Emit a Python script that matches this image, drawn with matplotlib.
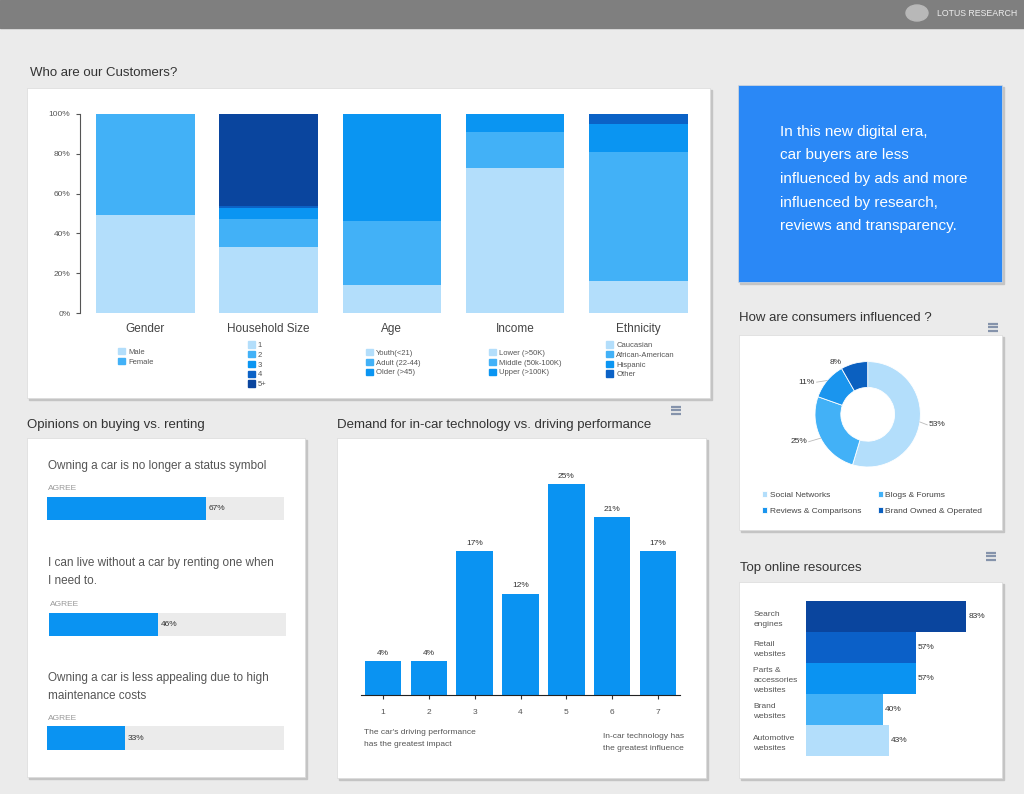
import matplotlib
matplotlib.use("Agg")
import matplotlib.pyplot as plt
from matplotlib.patches import Rectangle, Ellipse, Patch
from matplotlib.legend import Legend
from matplotlib.transforms import blended_transform_factory
import numpy as np

plt.rcParams['font.family'] = ['Liberation Sans', 'DejaVu Sans']

# ---- data ----
group_names = ['Gender', 'Household Size', 'Age', 'Income', 'Ethnicity']
gender_labels = ['Male', 'Female']
gender_values = [49, 51]
household_labels = ['1', '2', '3', '4', '5+']
household_values = [33, 14, 6, 1, 46]
age_labels = ['Youth(<21)', 'Adult (22-44)', 'Older (>45)']
age_values = [14, 32, 54]
income_labels = ['Lower (>50K)', 'Middle (50k-100K)', 'Upper (>100K)']
income_values = [73, 18, 9]
ethnicity_labels = ['Caucasian', 'African-American', 'Hispanic', 'Other']
ethnicity_values = [16, 65, 14, 5]

opinion_statements = ['Owning a car is no longer a status symbol',
                      'I can live without a car by renting one when\nI need to.',
                      'Owning a car is less appealing due to high\nmaintenance costs']
opinion_agree = [67, 46, 33]

demand_scale = [1, 2, 3, 4, 5, 6, 7]
demand_share = [4, 4, 17, 12, 25, 21, 17]

influence_labels = ['Social Networks', 'Blogs & Forums', 'Reviews & Comparisons', 'Brand Owned & Operated']
influence_share = [53, 25, 11, 8]

resource_labels = ['Search\nengines', 'Retail\nwebsites', 'Parts &\naccessories\nwebsites',
                   'Brand\nwebsites', 'Automotive\nwebsites']
resource_share = [83, 57, 57, 40, 43]

message = ['In this new digital era,', 'car buyers are less',
           'influenced by ads and more', 'influenced by research,',
           'reviews and transparency.']

# ---- layout helpers ----
W, H = 1024, 794
fig = plt.figure(figsize=(W / 100, H / 100), dpi=100)
fig.patch.set_facecolor('#EBEBEB')


def box(x0, y0, x1, y1):
    return [x0 / W, 1 - y1 / H, (x1 - x0) / W, (y1 - y0) / H]


bg = fig.add_axes([0, 0, 1, 1], zorder=-1)
bg.set_xlim(0, W)
bg.set_ylim(H, 0)
bg.axis('off')

# header
bg.add_patch(Rectangle((0, 0), W, 28, color='#7F7F7F'))
bg.add_patch(Ellipse((917, 13), 22, 16, color='#B8B8B8'))
bg.text(937, 13.5, 'LOTUS RESEARCH', fontsize=6.3, color='#EDEDED', va='center')


def panel(x0, y0, x1, y1, color='white'):
    bg.add_patch(Rectangle((x0 + 1.5, y0 + 1.5), x1 - x0, y1 - y0, color='#C4C4C4'))
    bg.add_patch(Rectangle((x0, y0), x1 - x0, y1 - y0, facecolor=color, edgecolor='#DADADA', lw=0.5))


def title(x, y, s):
    bg.text(x, y, s, fontsize=9.5, color='#333333', va='center')


def hamburger(x, y):
    for dy in (-3.5, 0, 3.5):
        bg.plot([x - 5, x + 5], [y + dy, y + dy], color='#8593AB', lw=1.6, solid_capstyle='butt')


panel(27, 88, 710, 398)
panel(738, 85, 1002, 282, color='#2A88F6')
panel(739, 335, 1002, 530)
panel(739, 582, 1002, 778)
panel(27, 438, 305, 777)
panel(337, 438, 706, 778)

title(30, 73, 'Who are our Customers?')
title(739, 318, 'How are consumers influenced ?')
title(740, 568, 'Top online resources')
title(27, 425, 'Opinions on buying vs. renting')
title(337, 425, 'Demand for in-car technology vs. driving performance')
hamburger(993, 327)
hamburger(676, 410)
hamburger(991, 556)

for i, line in enumerate(message):
    bg.text(780, 132 + i * 23.5, line, fontsize=11, color='white', va='center')

# ---- stacked customers chart ----
shades = ['#B3DEFB', '#42B1F7', '#0A95F2', '#0B62C6', '#0A459E']
groups = [(gender_labels, gender_values), (household_labels, household_values),
          (age_labels, age_values), (income_labels, income_values),
          (ethnicity_labels, ethnicity_values)]

ax = fig.add_axes(box(80, 114, 700, 313))
ax.set_facecolor('none')
trans = blended_transform_factory(ax.transData, ax.transAxes)
legend_y = [-0.22, -0.26, -0.25, -0.25, -0.235]
legend_dx = [-0.22, -0.17, -0.21, -0.21, -0.26]
for gi, (labels, values) in enumerate(groups):
    bottom = 0
    handles = []
    for si, v in enumerate(values):
        ax.bar(gi, v, bottom=bottom, width=0.8, color=shades[si])
        bottom += v
        handles.append(Patch(color=shades[si], label=labels[si]))
    leg = Legend(ax, handles, labels, loc='center left', bbox_to_anchor=(gi + legend_dx[gi], legend_y[gi]),
                 bbox_transform=trans, frameon=False, fontsize=5.5, handlelength=0.9,
                 handleheight=0.9, handletextpad=0.4, labelspacing=0.25,
                 borderpad=0, borderaxespad=0)
    for t in leg.get_texts():
        t.set_color('#555555')
    ax.add_artist(leg)
ax.set_xlim(-0.53, 4.5)
ax.set_ylim(0, 100)
ax.set_xticks(range(len(group_names)))
ax.set_xticklabels(group_names, fontsize=8.5, color='#444444')
ax.tick_params(axis='x', length=0, pad=7)
ax.set_yticks(range(0, 101, 20))
ax.set_yticklabels([f'{v}%' for v in range(0, 101, 20)], fontsize=6, color='#555555')
ax.tick_params(axis='y', length=3, color='#555555', pad=4)
for s in ('top', 'right', 'bottom'):
    ax.spines[s].set_visible(False)
ax.spines['left'].set_color('#555555')

# ---- opinions ----
statement_y = [466, 563, 678]
bar_boxes = [(47, 497, 284, 520), (49, 613, 286, 636), (47, 726, 284, 750)]
for stmt, val, sy, bb in zip(opinion_statements, opinion_agree, statement_y, bar_boxes):
    for li, ln in enumerate(stmt.split('\n')):
        bg.text(48, sy + li * 18, ln, fontsize=8.5, color='#555555', va='center')
    bg.text(bb[0] + 1, bb[1] - 8, 'AGREE', fontsize=6, color='#999999', va='center')
    oa = fig.add_axes(box(*bb))
    oa.barh(0, 100, height=1, color='#EBEBEB')
    oa.barh(0, val, height=1, color='#0A93F2')
    oa.text(val + 1, 0, f'{val}%', fontsize=6, color='#333333', va='center')
    oa.set_xlim(0, 100)
    oa.set_ylim(-0.5, 0.5)
    oa.axis('off')

# ---- demand chart ----
da = fig.add_axes(box(361, 460, 680, 695))
da.set_facecolor('none')
da.bar(demand_scale, demand_share, width=0.8, color='#0A93F2')
for x, v in zip(demand_scale, demand_share):
    da.annotate(f'{v}%', (x, v), xytext=(0, 3), textcoords='offset points',
                ha='center', va='bottom', fontsize=6, color='#333333')
da.set_xlim(0.52, 7.48)
da.set_ylim(0, 27.8)
da.set_xticks(demand_scale)
da.set_xticklabels([str(s) for s in demand_scale], fontsize=6, color='#555555')
da.tick_params(axis='x', length=3, pad=7, color='#333333')
da.set_yticks([])
for s in ('top', 'right', 'left'):
    da.spines[s].set_visible(False)
da.spines['bottom'].set_color('#222222')
bg.text(364, 733, "The car's driving performance", fontsize=6, color='#555555', va='center')
bg.text(364, 744, 'has the greatest impact', fontsize=6, color='#555555', va='center')
bg.text(603, 737, 'In-car technology has', fontsize=6, color='#555555', va='center')
bg.text(603, 748, 'the greatest influence', fontsize=6, color='#555555', va='center')

# ---- donut ----
cx, cy = 867.7, 414.3
pa = fig.add_axes(box(cx - 80, cy - 80, cx + 80, cy + 80))
pa.set_facecolor('none')
donut_colors = ['#B3DEFB', '#42B1F7', '#1A95EE', '#0B60C0']
wedges, _ = pa.pie(influence_share, colors=donut_colors, startangle=90, counterclock=False,
                   radius=1, wedgeprops=dict(width=0.49, edgecolor='white', linewidth=0.6))
label_xy = [(1.16, -0.20), (-1.15, -0.52), (-1.0, 0.61), (-0.60, 0.99)]
label_ha = ['left', 'right', 'right', 'center']
for w, v, (lx, ly), ha in zip(wedges, influence_share, label_xy, label_ha):
    ang = np.deg2rad((w.theta1 + w.theta2) / 2)
    x0, y0 = np.cos(ang), np.sin(ang)
    if ha != 'center':
        end_x = lx - 0.03 if ha == 'left' else lx + 0.03
        pa.plot([x0, end_x], [y0, ly], color='#BBBBBB', lw=0.6)
    pa.text(lx, ly, f'{v}%', fontsize=6, color='#333333', ha=ha, va='center')
pa.set_xlim(-1.518, 1.518)
pa.set_ylim(-1.518, 1.518)
pa.set_aspect('equal')
pa.axis('off')
order = [0, 2, 1, 3]
leg = pa.legend([wedges[i] for i in order], [influence_labels[i] for i in order], ncol=2,
                loc='upper left', bbox_to_anchor=(762 / W, 1 - 491 / H), bbox_transform=fig.transFigure,
                frameon=False, fontsize=6, handlelength=0.65, handleheight=0.65, handletextpad=0.25,
                columnspacing=2.0, labelspacing=1.0, borderpad=0, borderaxespad=0)
for t in leg.get_texts():
    t.set_color('#444444')

# ---- top online resources ----
ra = fig.add_axes(box(806, 601, 990, 756))
ra.set_facecolor('none')
res_colors = ['#0A459E', '#0B60C8', '#0A93F2', '#42B1F7', '#B3DEFB']
ypos = np.arange(len(resource_share))
ra.barh(ypos, resource_share, height=1.0, color=res_colors)
for y, v in zip(ypos, resource_share):
    ra.text(v + 1, y, f'{v}%', fontsize=6, color='#333333', va='center')
ra.set_xlim(0, 95.3)
ra.set_ylim(4.5, -0.5)
ra.set_yticks(ypos)
ra.set_yticklabels(resource_labels, fontsize=6, color='#555555', ha='left', linespacing=1.6)
ra.tick_params(axis='y', length=0, pad=38)
ra.set_xticks([])
for s in ra.spines.values():
    s.set_visible(False)

fig.savefig('out.png', dpi=100, facecolor=fig.get_facecolor())
